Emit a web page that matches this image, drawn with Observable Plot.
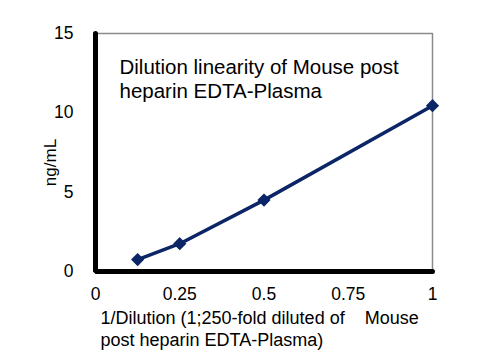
<!DOCTYPE html>
<html>
<head>
<meta charset="utf-8">
<script src="https://cdn.jsdelivr.net/npm/d3@7"></script>
<script src="https://cdn.jsdelivr.net/npm/@observablehq/plot@0.6"></script>
<style>
  html, body { margin: 0; padding: 0; background: #fff; }
  #chart { width: 501px; height: 360px; }
</style>
</head>
<body>
<div id="chart"></div>
<script>
const dilution = [0.125, 0.25, 0.5, 1];
const conc = [0.75, 1.75, 4.5, 10.45];
const xTicks = [0, 0.25, 0.5, 0.75, 1];
const yTicks = [0, 5, 10, 15];
const chartTitle = "Dilution linearity of Mouse post\nheparin EDTA-Plasma";
const xTitle = "1/Dilution (1;250-fold diluted of \u00a0\u00a0\u00a0Mouse\npost heparin EDTA-Plasma)";
const yTitle = "ng/mL";

const data = dilution.map((d, i) => ({x: d, y: conc[i]}));
const axisCorner = [{x: 0, y: 15}, {x: 0, y: 0}, {x: 1, y: 0}];
const boxCorner = [{x: 0, y: 15}, {x: 1, y: 15}, {x: 1, y: 0}];
const navy = "#0c2566";
const font = "Liberation Sans, Arial, sans-serif";

const chart = Plot.plot({
  width: 501,
  height: 360,
  marginLeft: 95,
  marginRight: 69,
  marginTop: 33,
  marginBottom: 89,
  style: {fontFamily: font, fontSize: "17px", background: "#fff", color: "#000"},
  x: {domain: [0, 1], label: null},
  y: {domain: [0, 15], label: null},
  marks: [
    Plot.axisX({ticks: xTicks, tickSize: 0, tickPadding: 16, tickFormat: d => String(d), fontSize: 17.5, label: null}),
    Plot.axisY({ticks: yTicks, tickSize: 0, tickPadding: 22, fontSize: 17.5, label: null}),
    Plot.line(boxCorner, {x: "x", y: "y", stroke: "#8a8a8a", strokeWidth: 1.5, strokeLinejoin: "miter"}),
    Plot.line(axisCorner, {x: "x", y: "y", stroke: "#000", strokeWidth: 5, strokeLinejoin: "miter"}),
    Plot.line(data, {x: "x", y: "y", stroke: navy, strokeWidth: 3.5}),
    Plot.dot(data, {x: "x", y: "y", symbol: "diamond2", r: 5, fill: navy, stroke: navy, strokeWidth: 1.5}),
    Plot.text([chartTitle], {frameAnchor: "top-left", dx: 24, dy: 23.5, textAnchor: "start", lineAnchor: "top", lineHeight: 1.17, fontSize: 20.5, fill: "#000"}),
    Plot.text([xTitle], {frameAnchor: "bottom-left", dx: 5, dy: 37, textAnchor: "start", lineAnchor: "top", lineHeight: 1.22, fontSize: 18, fill: "#000"}),
    Plot.text([yTitle], {frameAnchor: "left", dx: -45, dy: 10, rotate: -90, textAnchor: "middle", lineAnchor: "middle", fontSize: 17, fill: "#000"})
  ]
});
document.getElementById("chart").appendChild(chart);
</script>
</body>
</html>
